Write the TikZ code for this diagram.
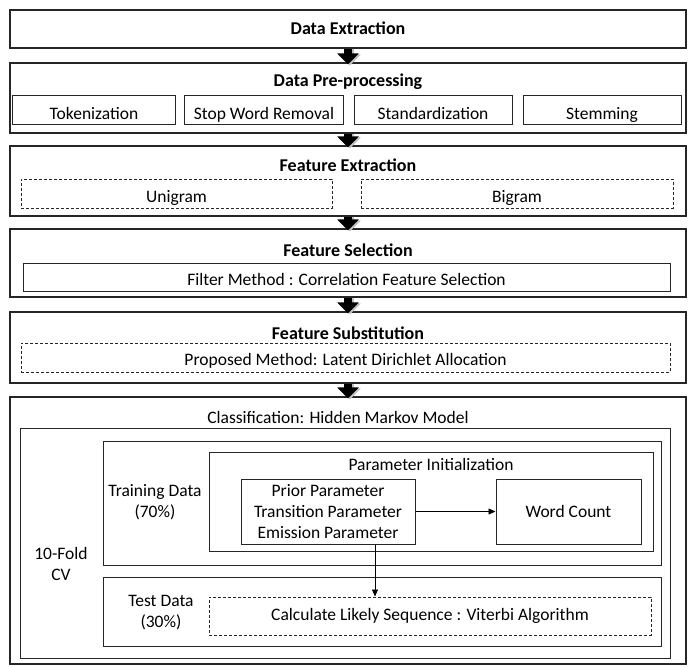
\documentclass[tikz,border=0pt]{standalone}
\usepackage{fontspec}
\setmainfont{Carlito}
\usetikzlibrary{arrows.meta,positioning,calc}
\begin{document}
\begin{tikzpicture}[x=1pt,y=-1pt,
  box/.style={draw=black!85, line width=1.2pt},
  sub/.style={draw=black!85, line width=1pt},
  dbox/.style={draw=black!85, line width=1pt, dash pattern=on 3pt off 2pt},
  ttl/.style={font=\fontsize{18}{20}\selectfont\bfseries},
  txt/.style={font=\fontsize{17.5}{21}\selectfont, align=center},
  low/.style={text height=21pt, text depth=3pt},
  lowb/.style={text height=19pt, text depth=3pt},
  bigarrow/.style={line width=8pt, -{Triangle[width=21pt,length=11pt]}, black},
  thinarrow/.style={line width=0.7pt, -{Triangle[width=6pt,length=7pt]}, black}
]
\useasboundingbox (0,0) rectangle (697,667);
\fill[white] (0,0) rectangle (697,667);

% stage boxes
\node[box, inner sep=0, minimum width=676pt, minimum height=38pt] (b1) at (348,29) {};
\node[ttl] (t1) at (348,28) {Data Extraction};

\node[box, inner sep=0, minimum width=676pt, minimum height=70pt] (b2) at (348,98) {};
\node[ttl] (t2) at (348,82) {Data Pre-processing};
\node[sub, txt, low, inner sep=0, minimum width=163pt, minimum height=29pt] (tok) at (94,110) {Tokenization};
\node[sub, txt, low, inner sep=0, minimum width=159pt, minimum height=29pt] (swr) at (264,110) {Stop Word Removal};
\node[sub, txt, low, inner sep=0, minimum width=158pt, minimum height=29pt] (std) at (433,110) {Standardization};
\node[sub, txt, low, inner sep=0, minimum width=158pt, minimum height=29pt] (stm) at (602,110) {Stemming};

\node[box, inner sep=0, minimum width=676pt, minimum height=70pt] (b3) at (348,181) {};
\node[ttl] (t3) at (348,165) {Feature Extraction};
\node[dbox, txt, low, inner sep=0, minimum width=311pt, minimum height=29pt] (uni) at (176.5,193.5) {Unigram};
\node[dbox, txt, low, inner sep=0, minimum width=312pt, minimum height=29pt] (bi) at (517,193.5) {Bigram};

\node[box, inner sep=0, minimum width=676pt, minimum height=68pt] (b4) at (348,263) {};
\node[ttl] (t4) at (348,250) {Feature Selection};
\node[sub, txt, lowb, inner sep=0, minimum width=647pt, minimum height=28pt] (cfs) at (346.5,277) {Filter Method : Correlation Feature Selection};

\node[box, inner sep=0, minimum width=676pt, minimum height=71pt] (b5) at (348,347.5) {};
\node[ttl] (t5) at (348,333) {Feature Substitution};
\node[dbox, txt, lowb, inner sep=0, minimum width=649pt, minimum height=29pt] (lda) at (345.5,357.5) {Proposed Method: Latent Dirichlet Allocation};

\node[box, inner sep=0, minimum width=676pt, minimum height=267pt] (b6) at (348,530.5) {};
\node[txt] (t6) at (338,417) {Classification: Hidden Markov Model};

% classification internals
\node[sub, inner sep=0, minimum width=650pt, minimum height=230pt] (cv) at (345,543) {};
\node[txt] (cvl) at (61,564) {10-Fold\\CV};

\node[sub, inner sep=0, minimum width=558pt, minimum height=124pt] (train) at (382,503) {};
\node[txt] (trl) at (155,502) {Training Data\\(70\%)};

\node[sub, inner sep=0, minimum width=444pt, minimum height=99pt] (pinit) at (431,501.5) {};
\node[txt] (pil) at (431,464) {Parameter Initialization};

\node[sub, txt, inner sep=0, minimum width=174pt, minimum height=65pt] (prior) at (328,511.5) {Prior Parameter\\Transition Parameter\\Emission Parameter};
\node[sub, txt, inner sep=0, minimum width=145pt, minimum height=65pt] (wc) at (568.5,511.5) {Word Count};

\node[sub, inner sep=0, minimum width=558pt, minimum height=69pt] (test) at (382,611.5) {};
\node[txt] (tel) at (161,612.5) {Test Data\\(30\%)};
\node[dbox, txt, inner sep=0, minimum width=442pt, minimum height=38pt] (vit) at (430,616) {Calculate Likely Sequence : Viterbi Algorithm};

\draw[thinarrow] (prior.east) -- (wc.west);
\draw[thinarrow] ([xshift=47pt]prior.south) -- ([xshift=47pt]prior.south |- vit.north);

% big arrows between stages
\foreach \a/\b in {b1/b2,b2/b3,b3/b4,b4/b5,b5/b6}{
  \draw[bigarrow, black!25] ([xshift=2pt]\a.south) -- ([xshift=2pt,yshift=-3pt]\b.north);
  \draw[bigarrow] (\a.south) -- ([yshift=-2pt]\b.north);
}
\end{tikzpicture}
\end{document}
